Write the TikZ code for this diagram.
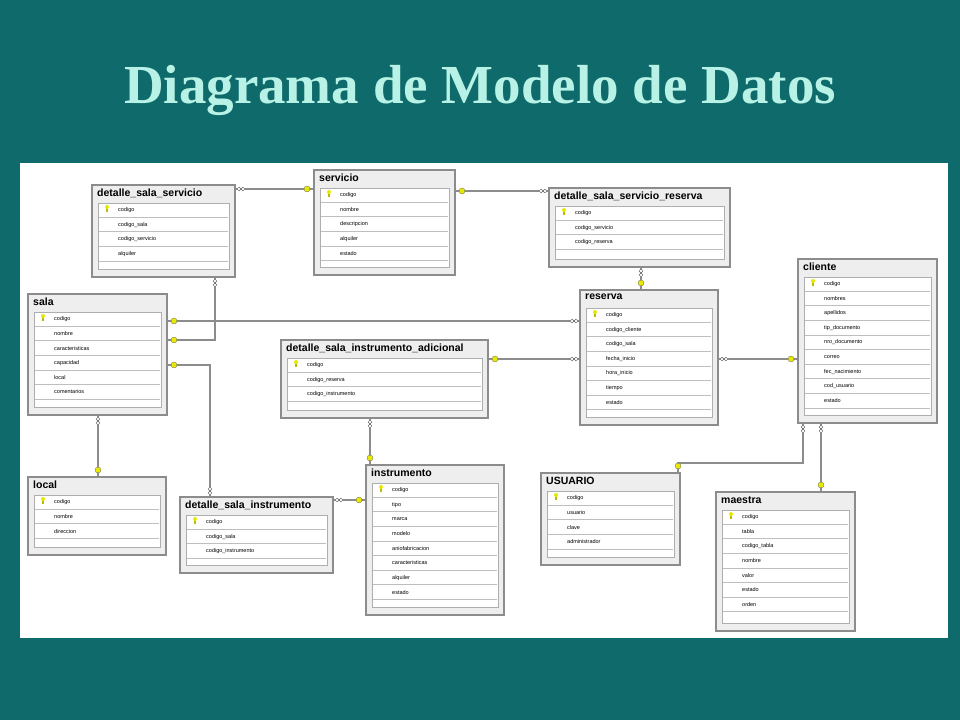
\documentclass[tikz,border=0pt]{standalone}
\usepackage{fontspec}
\setmainfont{Liberation Serif}
\setsansfont{Liberation Sans}
\usetikzlibrary{calc}

\definecolor{fondo}{HTML}{0F6B6B}
\definecolor{titulo}{HTML}{B8F2E6}
\definecolor{borde}{HTML}{8C8C8C}
\definecolor{gris}{HTML}{EEEEEE}
\definecolor{llavec}{HTML}{E8E800}

\tikzset{
  tablebox/.style = {draw=borde, fill=gris, line width=1.2pt, inner sep=0pt, outer sep=0pt},
  tabtitle/.style = {anchor=north west, font=\sffamily\bfseries\fontsize{10.5}{11}\selectfont, inner sep=0pt},
  campo/.style = {anchor=west, font=\sffamily\fontsize{5.5}{6}\selectfont, inner sep=0pt},
  conn/.style = {draw=black!45, line width=1.8pt},
  llave/.style = {circle, fill=llavec, draw=black!60, line width=.3pt, minimum size=6pt, inner sep=0pt},
  infcirc/.style = {circle, draw=black!60, fill=white, line width=.4pt, minimum size=3.8pt, inner sep=0pt}
}

% tabla: id, label, x1, y1, x2, y2, fields
\newcommand\tabla[7]{
  \pgfmathsetmacro\tw{#5-#3}
  \pgfmathsetmacro\th{#6-#4}
  \node[tablebox, minimum width=\tw pt, minimum height=\th pt] (#1) at ({(#3+#5)/2},{(#4+#6)/2}) {};
  \node[tabtitle] (#1-t) at ($(#1.north west)+(5,4)$) {#2};
  \draw[borde!70, fill=white] (#3+6,#4+18) rectangle (#5-6,#6-8);
  \fill[llavec!80!black] (#3+14,#4+22) rectangle (#3+16,#4+27);
  \fill[llavec] (#3+15,#4+22) circle (2pt);
  \foreach \f [count=\i] in {#7} {
    \node[campo] at (#3+26,{#4+25+14.6*(\i-1)}) {\f};
    \draw[gris!80!black, line width=.3pt] (#3+7,{#4+32+14.6*(\i-1)}) -- (#5-7,{#4+32+14.6*(\i-1)});
  }
}
% many ends: two small circles
\newcommand\infH[1]{\node[infcirc] at ($(#1)+(-1.9,0)$) {}; \node[infcirc] at ($(#1)+(1.9,0)$) {};}
\newcommand\infV[1]{\node[infcirc] at ($(#1)+(0,-1.9)$) {}; \node[infcirc] at ($(#1)+(0,1.9)$) {};}

\begin{document}
\begin{tikzpicture}[x=1pt, y=-1pt]
\fill[fondo] (0,0) rectangle (960,720);
\useasboundingbox (0,0) rectangle (960,720);
\fill[white] (20,163) rectangle (948,638);

% title
\node[font=\bfseries\fontsize{55}{60}\selectfont, text=titulo] (titulo) at (480,90) {Diagrama de Modelo de Datos};

% tables
\tabla{dss}{detalle\_sala\_servicio}{92}{185}{235}{277}{codigo, codigo\_sala, codigo\_servicio, alquiler}
\tabla{serv}{servicio}{314}{170}{455}{275}{codigo, nombre, descripcion, alquiler, estado}
\tabla{dssr}{detalle\_sala\_servicio\_reserva}{549}{188}{730}{267}{codigo, codigo\_servicio, codigo\_reserva}
\tabla{sala}{sala}{28}{294}{167}{415}{codigo, nombre, caracteristicas, capacidad, local, comentarios}
\tabla{res}{reserva}{580}{290}{718}{425}{codigo, codigo\_cliente, codigo\_sala, fecha\_inicio, hora\_inicio, tiempo, estado}
\tabla{cli}{cliente}{798}{259}{937}{423}{codigo, nombres, apellidos, tip\_documento, nro\_documento, correo, fec\_nacimiento, cod\_usuario, estado}
\tabla{dsia}{detalle\_sala\_instrumento\_adicional}{281}{340}{488}{418}{codigo, codigo\_reserva, codigo\_instrumento}
\tabla{loc}{local}{28}{477}{166}{555}{codigo, nombre, direccion}
\tabla{dsi}{detalle\_sala\_instrumento}{180}{497}{333}{573}{codigo, codigo\_sala, codigo\_instrumento}
\tabla{ins}{instrumento}{366}{465}{504}{615}{codigo, tipo, marca, modelo, aniofabricacion, caracteristicas, alquiler, estado}
\tabla{usu}{USUARIO}{541}{473}{680}{565}{codigo, usuario, clave, administrador}
\tabla{mae}{maestra}{716}{492}{855}{631}{codigo, tabla, codigo\_tabla, nombre, valor, estado, orden}

% connector ends
\coordinate (dss-s) at (235,189);   \coordinate (s-dss) at (314,189);
\coordinate (s-dssr) at (455,191);  \coordinate (dssr-s) at (549,191);
\coordinate (dssr-r) at (641,267);  \coordinate (r-dssr) at (641,290);
\coordinate (sa-r) at (167,321);    \coordinate (r-sa) at (580,321);
\coordinate (sa-dss) at (167,340);  \coordinate (dss-sa) at (215,277);
\coordinate (sa-dsi) at (167,365);  \coordinate (dsi-sa) at (210,497);
\coordinate (sa-l) at (98,415);     \coordinate (l-sa) at (98,477);
\coordinate (dsia-r) at (488,359);  \coordinate (r-dsia) at (580,359);
\coordinate (dsia-i) at (370,418);  \coordinate (i-dsia) at (370,465);
\coordinate (dsi-i) at (333,500);   \coordinate (i-dsi) at (366,500);
\coordinate (r-c) at (718,359);     \coordinate (c-r) at (798,359);
\coordinate (c-u) at (803,423);     \coordinate (u-c) at (678,473);
\coordinate (c-m) at (821,423);     \coordinate (m-c) at (821,492);

% connectors
\draw[conn] (dss-s) -- (s-dss);
\draw[conn] (s-dssr) -- (dssr-s);
\draw[conn] (dssr-r) -- (r-dssr);
\draw[conn] (sa-r) -- (r-sa);
\draw[conn] (sa-dss) -| (dss-sa);
\draw[conn] (sa-dsi) -| (dsi-sa);
\draw[conn] (sa-l) -- (l-sa);
\draw[conn] (dsia-r) -- (r-dsia);
\draw[conn] (dsia-i) -- (i-dsia);
\draw[conn] (dsi-i) -- (i-dsi);
\draw[conn] (r-c) -- (c-r);
\draw[conn] (c-u) -- (803,463) -| (u-c);
\draw[conn] (c-m) -- (m-c);

% key ends
\node[llave] at ($(s-dss)+(-7,0)$) {};
\node[llave] at ($(s-dssr)+(7,0)$) {};
\node[llave] at ($(r-dssr)+(0,-7)$) {};
\node[llave] at ($(sa-r)+(7,0)$) {};
\node[llave] at ($(sa-dss)+(7,0)$) {};
\node[llave] at ($(sa-dsi)+(7,0)$) {};
\node[llave] at ($(l-sa)+(0,-7)$) {};
\node[llave] at ($(dsia-r)+(7,0)$) {};
\node[llave] at ($(i-dsia)+(0,-7)$) {};
\node[llave] at ($(i-dsi)+(-7,0)$) {};
\node[llave] at ($(c-r)+(-7,0)$) {};
\node[llave] at ($(u-c)+(0,-7)$) {};
\node[llave] at ($(m-c)+(0,-7)$) {};

% many ends
\infH{$(dss-s)+(6,0)$}
\infH{$(dssr-s)+(-6,0)$}
\infV{$(dssr-r)+(0,6)$}
\infH{$(r-sa)+(-6,0)$}
\infV{$(dss-sa)+(0,6)$}
\infV{$(dsi-sa)+(0,-6)$}
\infV{$(sa-l)+(0,6)$}
\infH{$(r-dsia)+(-6,0)$}
\infV{$(dsia-i)+(0,6)$}
\infH{$(dsi-i)+(6,0)$}
\infH{$(r-c)+(6,0)$}
\infV{$(c-u)+(0,6)$}
\infV{$(c-m)+(0,6)$}
\end{tikzpicture}
\end{document}
